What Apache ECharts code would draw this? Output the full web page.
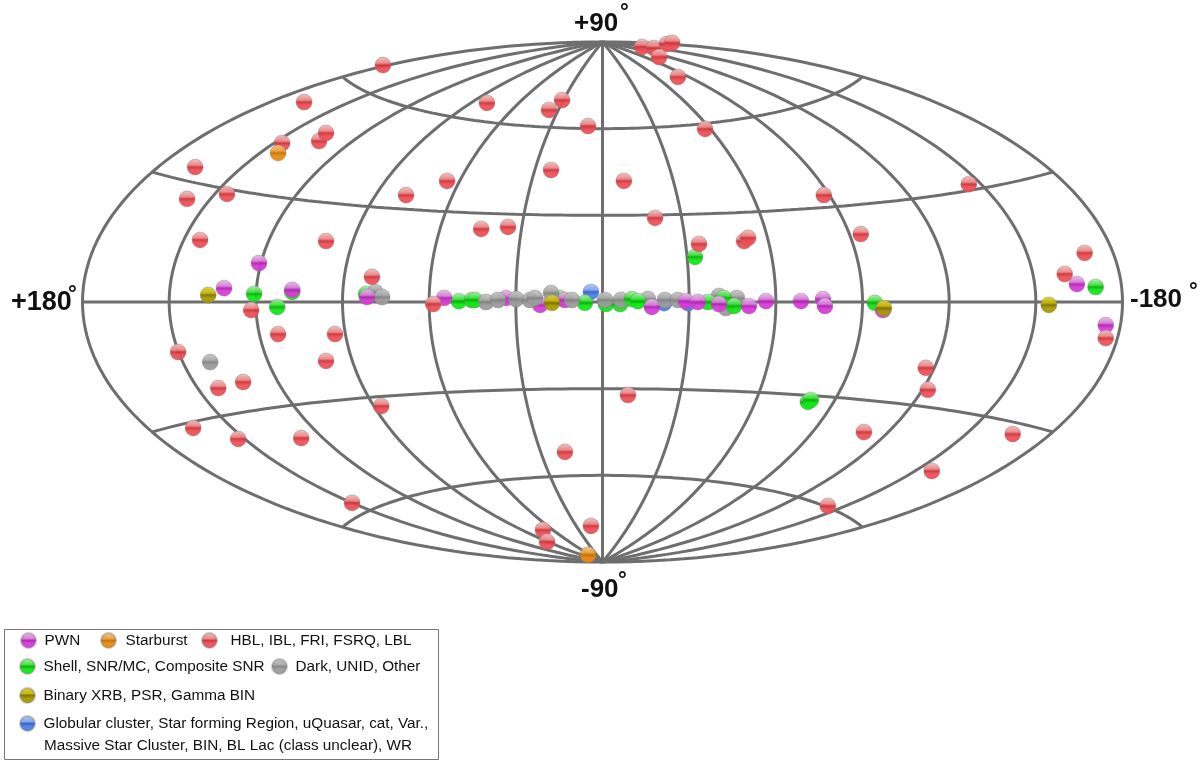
<!DOCTYPE html>
<html><head><meta charset="utf-8">
<style>html,body{margin:0;padding:0;background:#fff}#c{width:1200px;height:762px}</style>
<script src="https://cdn.jsdelivr.net/npm/echarts@6/dist/echarts.min.js"></script>
</head><body><div id="c"></div>
<script>
// Positions on the Aitoff sky map: [projected longitude deg, projected latitude deg]
const hblPoints = [[-13.7,88.3],[-17.8,87.9],[-22.3,89.3],[-24.1,89.7],[-19.6,84.8],[-26.1,77.9],[-35.5,59.9],[5.0,60.9],[14.0,69.9],[18.5,66.5],[40.0,68.9],[76.0,82.0],[103.3,69.2],[110.9,55.0],[98.1,55.7],[95.7,58.5],[141.0,46.7],[143.8,35.7],[130.0,37.4],[68.0,37.0],[53.8,41.9],[17.8,45.7],[-7.4,41.9],[-18.2,29.1],[42.0,25.3],[32.7,26.0],[139.3,21.5],[95.7,21.1],[-33.4,20.1],[-49.0,21.1],[-50.4,22.2],[-89.4,23.5],[-76.6,37.0],[-126.8,40.8],[-166.9,17.0],[-160.0,9.7],[79.8,8.7],[121.6,-2.8],[58.6,-0.7],[112.3,-11.1],[92.6,-11.1],[146.9,-17.3],[95.7,-20.4],[124.4,-27.7],[133.0,-29.8],[76.6,-36.0],[141.7,-43.6],[126.1,-47.4],[104.3,-47.1],[-8.8,-32.2],[13.0,-51.9],[86.7,-69.5],[20.6,-78.9],[19.2,-83.0],[4.0,-77.5],[-78.0,-70.6],[-90.5,-45.0],[-111.9,-22.8],[-112.6,-30.4],[-142.0,-45.7],[-114.0,-58.5],[-174.2,-12.5]];
const starburstPoints = [[112.3,51.6],[5.0,-87.5]];
const binaryPoints = [[136.5,2.4],[17.5,-0.3],[-154.5,-1.0],[-97.4,-2.1]];
const darkPoints = [[135.8,-20.8],[78.7,3.5],[76.3,1.7],[40.3,0],[36.2,0.7],[29.9,1.0],[25.1,0.7],[23.4,1.4],[17.8,3.1],[10.6,0.7],[-0.9,0.7],[-6.4,0.7],[-15.7,1.0],[-21.6,0.7],[-26.1,0.7],[-40.3,2.1],[-46.5,1.4],[-42.7,-2.1]];
const shellBehindDark = [[120.6,2.8],[112.6,-1.7],[107.4,3.5],[81.8,2.8],[49.7,0.3],[45.2,0.7],[44.1,0.7],[14.7,1.4],[6.1,-0.3],[-1.2,-0.7],[-6.1,-0.7],[-32.0,15.6],[-71.1,-34.6],[-72.1,-33.9],[-94.3,-0.3],[-170.7,5.2]];
const shellOverDark = [[-10.2,1.0],[-12.3,0.3],[-36.5,0],[-42.0,1.4],[-45.5,-1.4]];
const pwnBehindDark = [[118.9,13.5],[131.0,4.8],[107.4,4.2],[54.8,1.4],[33.4,1.4],[21.6,-1.0],[13.0,0.7]];
const pwnOverDark = [[81.5,1.7],[-17.1,-1.7],[-28.9,0.3],[-33.0,0],[-40.3,-0.7],[-50.7,-1.4],[-56.6,0.3],[-68.7,0.3],[-76.3,1.0],[-77.0,-1.4],[-97.1,-2.8],[-164.2,6.2],[-174.2,-8.0]];
const otherPoints = [[4.0,3.5],[-21.3,-0.4],[-29.6,-0.4]];
const meridians = [-180,-150,-120,-90,-60,-30,0,30,60,90,120,150,180];
const parallels = [-60,-30,0,30,60];
const names = {
  pwn:'PWN', star:'Starburst', hbl:'HBL, IBL, FRI, FSRQ, LBL',
  shell:'Shell, SNR/MC, Composite SNR', dark:'Dark, UNID, Other',
  bin:'Binary XRB, PSR, Gamma BIN',
  other:'Globular cluster, Star forming Region, uQuasar, cat, Var.,'
};
const otherLine2 = 'Massive Star Cluster, BIN, BL Lac (class unclear), WR';

function aitoff(lonDeg, latDeg){
  const l = lonDeg*Math.PI/180, p = latDeg*Math.PI/180;
  const a = Math.acos(Math.cos(p)*Math.cos(l/2));
  const s = a < 1e-6 ? 1 : Math.sin(a)/a;
  return [2*Math.cos(p)*Math.sin(l/2)/s*180/Math.PI, Math.sin(p)/s*180/Math.PI];
}
function glass(top, mid, dark, bottom){
  return new echarts.graphic.LinearGradient(0,0,0,1,[
    {offset:0,color:top},{offset:0.38,color:mid},{offset:0.5,color:dark},{offset:0.68,color:bottom},{offset:1,color:bottom}
  ]);
}
const styles = {
  pwn:  glass('#e8c4e8','#d67ad8','#b420b4','#d83cd8'),
  star: glass('#f0c890','#e8a040','#c87000','#ea8a10'),
  hbl:  glass('#f0c4c4','#ea8484','#d03038','#ee5058'),
  shell:glass('#b4f2b4','#40e040','#00b400','#10e818'),
  dark: glass('#c8c8c8','#a8a8a8','#828282','#9c9c9c'),
  bin:  glass('#d6d050','#c8b400','#7a7000','#a89a00'),
  other:glass('#b0c8f0','#80a4ea','#3060c8','#4a80e8')
};
const lineSeries = [];
const gridLine = d => ({type:'line',data:d,symbol:'none',silent:true,animation:false,z:1,clip:false,
  lineStyle:{color:'#6e6e6e',width:3},smooth:false,legendHoverLink:false});
meridians.forEach(m=>{
  const d=[]; for(let la=-90;la<=90;la+=1.5) d.push(aitoff(m,la)); lineSeries.push(gridLine(d));
});
parallels.forEach(p=>{
  const d=[]; for(let lo=-180;lo<=180;lo+=3) d.push(aitoff(lo,p)); lineSeries.push(gridLine(d));
});
const pts = (key,data,z)=>({type:'scatter',name:names[key],data,symbol:'circle',symbolSize:16,z,clip:false,animation:false,
  itemStyle:{color:styles[key],borderColor:'rgba(120,120,120,0.4)',borderWidth:1,opacity:0.95}});
const series = lineSeries.concat([
  pts('other',otherPoints,2), pts('shell',shellBehindDark,3), pts('pwn',pwnBehindDark,4), pts('dark',darkPoints,5),
  pts('shell',shellOverDark,6), pts('pwn',pwnOverDark,7),
  pts('bin',binaryPoints,8), pts('hbl',hblPoints,9), pts('star',starburstPoints,10)
]);
const leg = (key,iconX,y,gap)=>({
  show:true,orient:'horizontal',left:iconX-8,top:y-11,padding:0,itemWidth:16,itemHeight:15,selectedMode:false,
  data:[{name:names[key],icon:'circle'}],
  textStyle:{fontFamily:'Liberation Sans',fontSize:15.3,color:'#111',padding:[5,0,0,gap],height:18,lineHeight:18}
});
const lab = (t,x,y,size,align)=>({type:'text',x,y,silent:true,z:20,
  style:{text:t,x:0,y:0,fill:'#111',font:'bold '+size+'px "Liberation Sans"',textAlign:align||'left',textVerticalAlign:'middle'}});
const option = {
  backgroundColor:'#fff', animation:false,
  grid:{left:82.5,top:42,width:1040,height:520,containLabel:false},
  xAxis:{type:'value',min:-180,max:180,inverse:true,show:false},
  yAxis:{type:'value',min:-90,max:90,show:false},
  legend:[leg('pwn',28,640,3),leg('star',108,640,4),leg('hbl',209,640,8),leg('shell',27,666,3),leg('dark',279,666,3),leg('bin',27,695,3),leg('other',27,723,3)],
  graphic:[
    {type:'rect',shape:{x:4.5,y:629.5,width:434,height:130},style:{fill:'none',stroke:'#777',lineWidth:1},silent:true,z:0},
    {type:'text',x:44,y:746,silent:true,style:{text:otherLine2,fill:'#111',font:'15.3px "Liberation Sans"',textVerticalAlign:'middle'}},
    lab('+90',574,24,26), lab('°',620,13,22),
    lab('-90',581,590,26), lab('°',618,581,22),
    lab('+180',11,303,27), lab('°',68,295,22),
    lab('-180',1130,300,26), lab('°',1189,292,22)
  ],
  series
};
echarts.init(document.getElementById('c'),null,{renderer:'canvas'}).setOption(option);
</script></body></html>
